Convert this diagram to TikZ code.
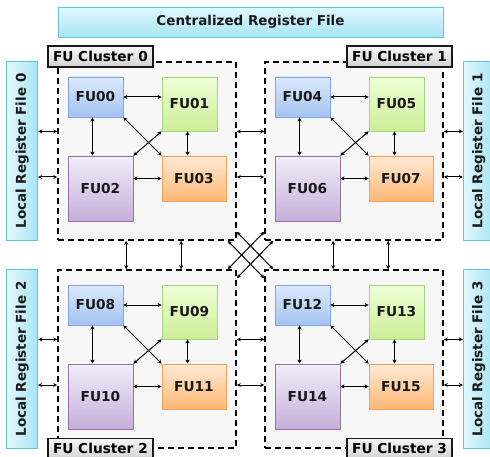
\documentclass[tikz,border=0pt]{standalone}
\usepackage{fontspec}
\setmainfont{DejaVu Sans}
\usepackage{tikz}
\usetikzlibrary{arrows.meta,positioning}
\definecolor{fbtop}{HTML}{DCE9FC}
\definecolor{fbbot}{HTML}{A4C3F0}
\definecolor{fbline}{HTML}{7EA6E0}
\definecolor{fgtop}{HTML}{EDFFD9}
\definecolor{fgbot}{HTML}{CDEE98}
\definecolor{fgline}{HTML}{A9D47E}
\definecolor{fotop}{HTML}{FFEAD6}
\definecolor{fobot}{HTML}{FFB774}
\definecolor{foline}{HTML}{F2A25C}
\definecolor{fptop}{HTML}{F2EDFA}
\definecolor{fpbot}{HTML}{C6AFDB}
\definecolor{fpline}{HTML}{9673A6}
\definecolor{rftop}{HTML}{E2F8FD}
\definecolor{rfbot}{HTML}{A8E5F5}
\definecolor{rfline}{HTML}{62C3DD}
\definecolor{clfill}{HTML}{F7F7F7}

\begin{document}
\begin{tikzpicture}[x=1pt,y=-1pt,
    fu/.style={draw,line width=0.8pt,inner sep=0pt,font=\fontsize{13.7}{15}\selectfont\bfseries,text=black!90},
    fublue/.style={fu,top color=fbtop,bottom color=fbbot,draw=fbline},
    fugreen/.style={fu,top color=fgtop,bottom color=fgbot,draw=fgline},
    fuorange/.style={fu,top color=fotop,bottom color=fobot,draw=foline},
    fupurple/.style={fu,top color=fptop,bottom color=fpbot,draw=fpline},
    cluster/.style={draw,fill=clfill,dash pattern=on 6pt off 4pt,line width=1.6pt,minimum width=178pt,minimum height=178pt},
    cllabel/.style={draw=black!90,line width=1.6pt,top color=white!97!black,bottom color=black!18,inner xsep=5pt,minimum height=21pt,font=\fontsize{13.7}{15}\selectfont\bfseries},
    regfile/.style={draw=rfline,line width=0.8pt,inner sep=0pt,font=\fontsize{13.5}{15}\selectfont\bfseries,text=black!90},
    link/.style={{Stealth[length=4pt,width=4pt]}-{Stealth[length=4pt,width=4pt]},line width=1pt}]
  \useasboundingbox (0,0) rectangle (490,457);

  \node[regfile,top color=rftop,bottom color=rfbot,minimum width=385pt,minimum height=30pt] (crf) at (250.5,22) {Centralized Register File};

  \foreach \c/\dx/\dy/\na/\nb/\nc/\nd in {0/0/0/00/01/02/03,1/207/0/04/05/06/07,2/0/208/08/09/10/11,3/207/208/12/13/14/15}{
    \begin{scope}[shift={(\dx,\dy)}]
      \node[cluster] (cl\c) at (147,151) {};
      \node[fublue,minimum width=55pt,minimum height=40pt] (a\c) at (95.5,97) {FU\na};
      \node[fugreen,minimum width=55pt,minimum height=54pt] (b\c) at (189.5,104) {FU\nb};
      \node[fupurple,minimum width=65pt,minimum height=65pt] (c\c) at (100.5,188.5) {FU\nc};
      \node[fuorange,minimum width=64pt,minimum height=45pt] (d\c) at (194,178.5) {FU\nd};
      \draw[link] (a\c.east) -- (a\c.east -| b\c.west);
      \draw[link] ([xshift=-3pt]a\c.south) -- ([xshift=-3pt]a\c.south |- c\c.north);
      \draw[link] ([xshift=-2pt]b\c.south) -- ([xshift=-2pt]b\c.south |- d\c.north);
      \draw[link] (d\c.west) -- (d\c.west -| c\c.east);
      \draw[link] (a\c.south east) -- (d\c.north west);
      \draw[link] (b\c.south west) -- (c\c.north east);
    \end{scope}
  }

  \node[cllabel,anchor=west] (lab0) at ([xshift=-10pt,yshift=4.5pt]cl0.north west) {FU Cluster 0};
  \node[cllabel,anchor=east] (lab1) at ([xshift=9pt,yshift=4.5pt]cl1.north east) {FU Cluster 1};
  \node[cllabel,anchor=west] (lab2) at ([xshift=-10pt]cl2.south west) {FU Cluster 2};
  \node[cllabel,anchor=east] (lab3) at ([xshift=9pt]cl3.south east) {FU Cluster 3};

  \node[regfile,left color=rftop,right color=rfbot,minimum width=31pt,minimum height=179pt,left=19pt of cl0] (lrf0) {\rotatebox{90}{Local Register File 0}};
  \node[regfile,left color=rftop,right color=rfbot,minimum width=31pt,minimum height=179pt,right=19pt of cl1] (lrf1) {\rotatebox{90}{Local Register File 1}};
  \node[regfile,left color=rftop,right color=rfbot,minimum width=31pt,minimum height=179pt,left=19pt of cl2] (lrf2) {\rotatebox{90}{Local Register File 2}};
  \node[regfile,left color=rftop,right color=rfbot,minimum width=31pt,minimum height=179pt,right=19pt of cl3] (lrf3) {\rotatebox{90}{Local Register File 3}};

  \foreach \c/\l/\r in {0/0/1,2/2/3}{
    \draw[link] (lrf\l.east |- b\c.south) -- (cl\c.west |- b\c.south);
    \draw[link] ([yshift=1.5pt]lrf\l.east |- d\c) -- ([yshift=1.5pt]cl\c.west |- d\c);
    \draw[link] (cl\c.east |- b\c.south) -- (cl\r.west |- b\c.south);
    \draw[link] ([yshift=1.5pt]cl\c.east |- d\c) -- ([yshift=1.5pt]cl\r.west |- d\c);
    \draw[link] (cl\r.east |- b\c.south) -- (lrf\r.west |- b\c.south);
    \draw[link] ([yshift=1.5pt]cl\r.east |- d\c) -- ([yshift=1.5pt]lrf\r.west |- d\c);
  }

  \foreach \t/\b in {0/2,1/3}{
    \draw[link] ([xshift=69pt]cl\t.south west) -- ([xshift=69pt]cl\b.north west);
    \draw[link] ([xshift=124pt]cl\t.south west) -- ([xshift=124pt]cl\b.north west);
  }

  \draw[link] ([yshift=9pt]cl0.south east) -- ([xshift=9pt]cl3.north west);
  \draw[link] ([xshift=-9pt]cl0.south east) -- ([yshift=-9pt]cl3.north west);
  \draw[link] ([yshift=9pt]cl1.south west) -- ([xshift=-9pt]cl2.north east);
  \draw[link] ([xshift=9pt]cl1.south west) -- ([yshift=-9pt]cl2.north east);
\end{tikzpicture}
\end{document}
